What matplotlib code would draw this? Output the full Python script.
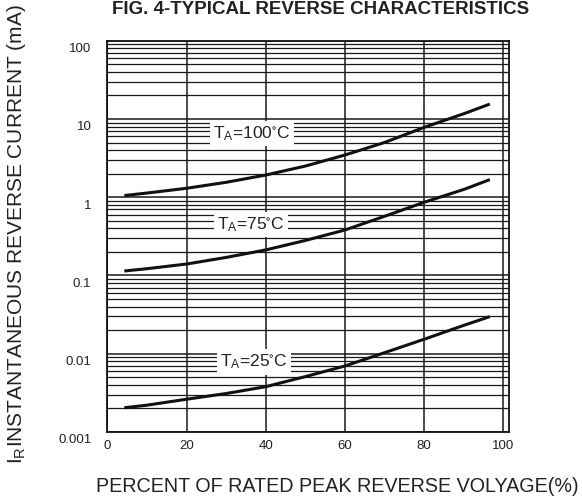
"""
Typical reverse characteristics (fig. 4), redrawn with matplotlib.
"""
import numpy as np
import matplotlib
matplotlib.use('Agg')
import matplotlib.pyplot as plt
import matplotlib.transforms as mtransforms
from matplotlib.ticker import FixedLocator, LogLocator, NullFormatter

plt.rcParams['font.family'] = ['Liberation Sans', 'DejaVu Sans']
plt.rcParams['mathtext.fontset'] = 'custom'
plt.rcParams['mathtext.rm'] = 'Liberation Sans'
plt.rcParams['mathtext.default'] = 'regular'

# Data.
percent = [4.3, 10, 20, 30, 40, 50, 60, 70, 80, 90.3, 96.6]
ir_100c = [1.05, 1.13, 1.30, 1.55, 1.92, 2.5, 3.46, 5.0, 7.8, 11.8, 15.5]
ir_75c  = [0.114, 0.122, 0.140, 0.17, 0.212, 0.28, 0.381, 0.57, 0.861, 1.27, 1.68]
ir_25c  = [0.00204, 0.0022, 0.00262, 0.0031, 0.00379, 0.0051, 0.00697, 0.0103, 0.0153, 0.0233, 0.0298]

curve_labels = ['T$_{A}$=100$^{\\circ}$C', 'T$_{A}$=75$^{\\circ}$C', 'T$_{A}$=25$^{\\circ}$C']
label_pos    = [(36.5, 6.5), (36.3, 0.45), (37.1, 0.0079)]

x_ticks = [0, 20, 40, 60, 80, 100]
y_ticks = [0.001, 0.01, 0.1, 1, 10, 100]
y_tick_labels = ['0.001', '0.01', '0.1', '1', '10', '100']

# Figure.
fig = plt.figure(figsize=(5.82, 5.03), dpi=100)
ax = fig.add_axes([0.1844, 0.1412, 0.6906, 0.7779])

ax.set_yscale('log')
ax.set_xlim(0, 101.5)
ax.set_ylim(0.001, 100)

ax.xaxis.set_major_locator(FixedLocator(x_ticks))
ax.yaxis.set_major_locator(FixedLocator(y_ticks))
ax.set_yticklabels(y_tick_labels)
ax.yaxis.set_minor_locator(LogLocator(base=10, subs=np.arange(2, 10)))
ax.yaxis.set_minor_formatter(NullFormatter())

ax.grid(which='major', axis='both', color='#1a1a1a', lw=1.1)
ax.grid(which='minor', axis='y', color='#1a1a1a', lw=0.9)
ax.set_axisbelow(True)

ax.tick_params(which='both', length=0, labelsize=9.5, colors='#222222')
ax.tick_params(axis='x', pad=6)
ax.tick_params(axis='y', pad=11.5)
# y tick labels sit a little below their lines in the reference
shift = mtransforms.ScaledTranslation(0, -5 / 72, fig.dpi_scale_trans)
for lbl in ax.get_yticklabels():
    lbl.set_transform(lbl.get_transform() + shift)

for sp in ax.spines.values():
    sp.set_color('#111111')
    sp.set_linewidth(1.3)

for vals in (ir_100c, ir_75c, ir_25c):
    ax.plot(percent, vals, color='#111111', lw=2.2, solid_capstyle='butt')

for txt, (lx, ly) in zip(curve_labels, label_pos):
    ax.text(lx, ly, txt, ha='center', va='center', fontsize=12.5, color='#222222',
            bbox=dict(facecolor='white', edgecolor='none', pad=2.5))

fig.text(0.55, 0.982, 'FIG. 4-TYPICAL REVERSE CHARACTERISTICS', ha='center', va='center',
         fontsize=13.5, fontweight='bold', color='#222222')
fig.text(0.579, 0.032, 'PERCENT OF RATED PEAK REVERSE VOLYAGE(%)', ha='center', va='center',
         fontsize=14.2, color='#222222')
fig.text(0.028, 0.535, 'I$_{R}$INSTANTANEOUS REVERSE CURRENT (mA)', ha='center', va='center',
         rotation=90, fontsize=15, color='#222222')

fig.savefig('out.png', dpi=100)
